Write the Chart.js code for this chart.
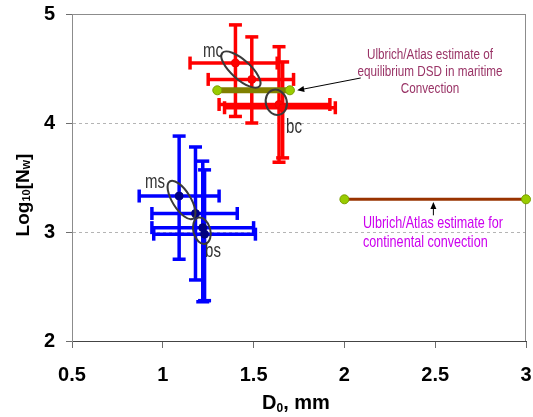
<!DOCTYPE html>
<html>
<head>
<meta charset="utf-8">
<script src="https://cdn.jsdelivr.net/npm/chart.js@4.4.1/dist/chart.umd.min.js"></script>
<style>
  html, body { margin: 0; padding: 0; background: #fff; }
  canvas { display: block; }
</style>
</head>
<body>
<canvas id="dsdChart" width="533" height="417"></canvas>
<script>
// convective points (mc, bc) with D0 and log10(Nw) ranges
const convD0 = [1.40, 1.49, 1.64, 1.66];
const convD0Lo = [1.15, 1.25, 1.31, 1.34];
const convD0Hi = [1.63, 1.72, 1.92, 1.95];
const convNw = [4.55, 4.40, 4.17, 4.14];
const convNwLo = [4.06, 4.00, 3.64, 3.68];
const convNwHi = [4.90, 4.79, 4.70, 4.56];

// stratiform points (ms, bs)
const stratD0 = [1.09, 1.18, 1.22, 1.23];
const stratD0Lo = [0.87, 0.94, 0.94, 0.95];
const stratD0Hi = [1.31, 1.41, 1.50, 1.51];
const stratNw = [3.33, 3.17, 3.04, 2.98];
const stratNwLo = [2.75, 2.56, 2.36, 2.37];
const stratNwHi = [3.88, 3.78, 3.65, 3.57];

// Ulbrich/Atlas estimates
const maritimeD0 = [1.3, 1.7];
const maritimeNw = [4.3, 4.3];
const continentalD0 = [2, 3];
const continentalNw = [3.3, 3.3];

const xTicks = [0.5, 1, 1.5, 2, 2.5, 3];
const yTicks = [2, 3, 4, 5];

const FONT = "'Liberation Sans', Arial, sans-serif";

const errorGroups = [
    { color: '#ff0000', d0: convD0, lo: convD0Lo, hi: convD0Hi, nw: convNw, nwLo: convNwLo, nwHi: convNwHi },
    { color: '#0000ff', d0: stratD0, lo: stratD0Lo, hi: stratD0Hi, nw: stratNw, nwLo: stratNwLo, nwHi: stratNwHi }
];

// ellipses around the point pairs (center in data units, radii in px)
const ellipses = [
    { x: 1.43, y: 4.49, rx: 25, ry: 9.5, rot: 42 },
    { x: 1.625, y: 4.19, rx: 10.5, ry: 12.8, rot: -15 },
    { x: 1.103, y: 3.294, rx: 22, ry: 9, rot: 58 },
    { x: 1.215, y: 3.012, rx: 13.5, ry: 8.5, rot: 75 }
];

const pointLabels = [
    { text: 'mc', px: 213, py: 57 },
    { text: 'bc', px: 294, py: 132.5 },
    { text: 'ms', px: 155, py: 188 },
    { text: 'bs', px: 213, py: 256.5 }
];

function line(ctx, x1, y1, x2, y2) {
    ctx.beginPath();
    ctx.moveTo(x1, y1);
    ctx.lineTo(x2, y2);
    ctx.stroke();
}

function drawText(ctx, str, x, y, opt) {
    ctx.save();
    ctx.translate(x, y);
    ctx.scale(opt.sx || 1, opt.sy || 1);
    ctx.font = opt.font;
    ctx.fillStyle = opt.color;
    ctx.textAlign = opt.align || 'left';
    ctx.textBaseline = 'alphabetic';
    ctx.fillText(str, 0, 0);
    ctx.restore();
}

// text runs with mixed sizes (for subscripts), centered on x
function drawRuns(ctx, runs, x, y) {
    let total = 0;
    runs.forEach(r => {
        ctx.font = r.font;
        r.w = ctx.measureText(r.text).width;
        total += r.w;
    });
    let cx = x - total / 2;
    runs.forEach(r => {
        ctx.font = r.font;
        ctx.textAlign = 'left';
        ctx.textBaseline = 'alphabetic';
        ctx.fillText(r.text, cx, y + (r.dy || 0));
        cx += r.w;
    });
}

function arrow(ctx, x1, y1, x2, y2) {
    const a = Math.atan2(y2 - y1, x2 - x1);
    const c = Math.cos(a), s = Math.sin(a);
    line(ctx, x1, y1, x2 - 5 * c, y2 - 5 * s);
    ctx.beginPath();
    ctx.moveTo(x2, y2);
    ctx.lineTo(x2 - 7 * c + 3 * s, y2 - 7 * s - 3 * c);
    ctx.lineTo(x2 - 7 * c - 3 * s, y2 - 7 * s + 3 * c);
    ctx.closePath();
    ctx.fill();
}

const errorBars = {
    id: 'errorBars',
    beforeDatasetsDraw(chart) {
        const { ctx, chartArea, scales: { x, y } } = chart;

        // top and right frame
        ctx.save();
        ctx.strokeStyle = '#8c8c8c';
        ctx.lineWidth = 1;
        line(ctx, chartArea.left, chartArea.top + 0.5, chartArea.right, chartArea.top + 0.5);
        line(ctx, chartArea.right - 0.5, chartArea.top, chartArea.right - 0.5, chartArea.bottom);
        ctx.restore();

        errorGroups.forEach(g => {
            ctx.save();
            ctx.strokeStyle = g.color;
            ctx.lineCap = 'butt';
            ctx.lineWidth = 3.5;
            g.d0.forEach((d, i) => {
                const px = x.getPixelForValue(d);
                const py = y.getPixelForValue(g.nw[i]);
                const xl = x.getPixelForValue(g.lo[i]);
                const xh = x.getPixelForValue(g.hi[i]);
                const yl = y.getPixelForValue(g.nwLo[i]);
                const yh = y.getPixelForValue(g.nwHi[i]);
                line(ctx, xl, py, xh, py);
                line(ctx, px, yl, px, yh);
                line(ctx, xl, py - 6.5, xl, py + 6.5);
                line(ctx, xh, py - 6.5, xh, py + 6.5);
                line(ctx, px - 6.5, yl, px + 6.5, yl);
                line(ctx, px - 6.5, yh, px + 6.5, yh);
            });
            ctx.restore();
        });
    },
    afterDatasetsDraw(chart) {
        const { ctx, scales: { x, y } } = chart;

        ctx.save();
        ctx.strokeStyle = '#3a3a3a';
        ctx.lineWidth = 2;
        ellipses.forEach(e => {
            ctx.beginPath();
            ctx.ellipse(x.getPixelForValue(e.x), y.getPixelForValue(e.y), e.rx, e.ry,
                e.rot * Math.PI / 180, 0, Math.PI * 2);
            ctx.stroke();
        });
        ctx.restore();

        pointLabels.forEach(l => drawText(ctx, l.text, l.px, l.py, {
            font: '15px ' + FONT, color: '#333', align: 'center', sy: 1.35
        }));

        // annotation: maritime estimate
        const mText = ['Ulbrich/Atlas estimate of', 'equilibrium DSD in maritime', 'Convection'];
        mText.forEach((t, i) => drawText(ctx, t, 430, 59 + i * 17, {
            font: '13px ' + FONT, color: '#993366', align: 'center', sx: 0.9, sy: 1.1
        }));
        ctx.save();
        ctx.strokeStyle = '#000';
        ctx.fillStyle = '#000';
        ctx.lineWidth = 1;
        arrow(ctx, x.getPixelForValue(2.09), y.getPixelForValue(4.413),
            x.getPixelForValue(1.74), y.getPixelForValue(4.30));
        arrow(ctx, x.getPixelForValue(2.49), y.getPixelForValue(3.153),
            x.getPixelForValue(2.49), y.getPixelForValue(3.275));
        ctx.restore();

        // annotation: continental estimate
        const cText = ['Ulbrich/Atlas estimate for', 'continental convection'];
        cText.forEach((t, i) => drawText(ctx, t, 363, 228 + i * 18.5, {
            font: '14px ' + FONT, color: '#cc00ee', sx: 0.9, sy: 1.15
        }));

        // axis titles
        ctx.save();
        ctx.fillStyle = '#000';
        drawRuns(ctx, [
            { text: 'D', font: 'bold 20px ' + FONT },
            { text: '0', font: 'bold 12px ' + FONT, dy: 3 },
            { text: ', mm', font: 'bold 20px ' + FONT }
        ], 296, 409);
        ctx.translate(29, 195);
        ctx.rotate(-Math.PI / 2);
        drawRuns(ctx, [
            { text: 'Log', font: 'bold 19px ' + FONT },
            { text: '10', font: 'bold 11px ' + FONT, dy: 1 },
            { text: '[N', font: 'bold 19px ' + FONT },
            { text: 'w', font: 'bold 12px ' + FONT, dy: 1 },
            { text: ']', font: 'bold 19px ' + FONT }
        ], 0, 0);
        ctx.restore();
    }
};

new Chart(document.getElementById('dsdChart'), {
    type: 'scatter',
    data: {
        datasets: [
            {
                label: 'Maritime estimate',
                data: maritimeD0.map((d, i) => ({ x: d, y: maritimeNw[i] })),
                showLine: true,
                borderColor: '#808000',
                borderWidth: 6,
                pointRadius: 4.5,
                pointBackgroundColor: '#99cc00',
                pointBorderColor: '#7a9e00',
                pointBorderWidth: 1,
                clip: false
            },
            {
                label: 'Continental estimate',
                data: continentalD0.map((d, i) => ({ x: d, y: continentalNw[i] })),
                showLine: true,
                borderColor: '#993300',
                borderWidth: 3,
                pointRadius: 4.5,
                pointBackgroundColor: '#99cc00',
                pointBorderColor: '#7a9e00',
                pointBorderWidth: 1,
                clip: false
            },
            {
                label: 'Convective',
                data: convD0.map((d, i) => ({ x: d, y: convNw[i] })),
                pointRadius: 4,
                pointBackgroundColor: '#ff0000',
                pointBorderColor: '#ee0000',
                clip: false
            },
            {
                label: 'Stratiform',
                data: stratD0.map((d, i) => ({ x: d, y: stratNw[i] })),
                pointRadius: 4,
                pointBackgroundColor: '#000080',
                pointBorderColor: '#000080',
                clip: false
            }
        ]
    },
    options: {
        responsive: false,
        animation: false,
        devicePixelRatio: 1,
        layout: { padding: { top: 14, right: 7, left: 0, bottom: 0 } },
        plugins: {
            legend: { display: false },
            tooltip: { enabled: false }
        },
        scales: {
            x: {
                type: 'linear',
                min: 0.5,
                max: 3,
                afterBuildTicks: s => { s.ticks = xTicks.map(v => ({ value: v })); },
                afterFit: s => {
                    s.height = 76;
                    s.paddingLeft = 0;
                    s.paddingRight = 0;
                },
                ticks: {
                    font: { family: FONT, size: 20, weight: 'bold' },
                    color: '#000',
                    padding: 15,
                    maxRotation: 0,
                    callback: v => String(v)
                },
                grid: {
                    drawOnChartArea: false,
                    drawTicks: true,
                    tickLength: 7,
                    tickColor: '#6e6e6e'
                },
                border: { color: '#444', width: 1 }
            },
            y: {
                type: 'linear',
                min: 2,
                max: 5,
                afterBuildTicks: s => { s.ticks = yTicks.map(v => ({ value: v })); },
                afterFit: s => {
                    s.width = 72;
                    s.paddingTop = 0;
                    s.paddingBottom = 0;
                },
                ticks: {
                    font: { family: FONT, size: 20, weight: 'bold' },
                    color: '#000',
                    padding: 11,
                    callback: v => String(v)
                },
                grid: {
                    color: c => (c.tick && (c.tick.value === 3 || c.tick.value === 4)) ? '#b4b4b4' : 'rgba(0,0,0,0)',
                    drawTicks: true,
                    tickLength: 6,
                    tickColor: '#6e6e6e'
                },
                border: { color: '#8c8c8c', width: 1, dash: [3, 3] }
            }
        }
    },
    plugins: [errorBars]
});
</script>
</body>
</html>
